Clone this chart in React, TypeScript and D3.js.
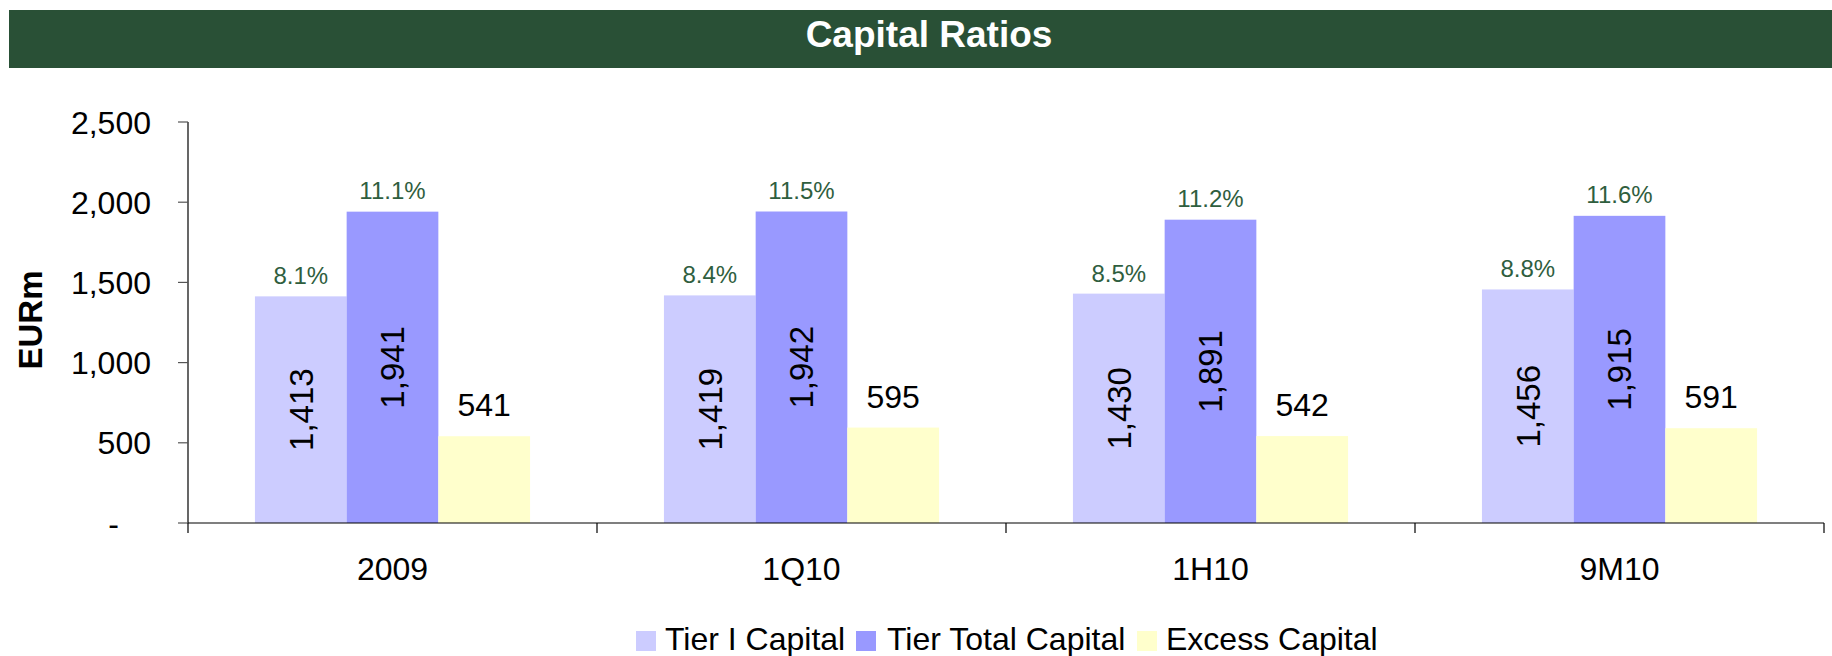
import React from "react";
import * as d3 from "d3";

const categories = ["2009", "1Q10", "1H10", "9M10"];
const seriesNames = ["Tier I Capital", "Tier Total Capital", "Excess Capital"];
const tier1 = [1413, 1419, 1430, 1456];
const tierTotal = [1941, 1942, 1891, 1915];
const excess = [541, 595, 542, 591];
const tier1Ratio = ["8.1%", "8.4%", "8.5%", "8.8%"];
const tierTotalRatio = ["11.1%", "11.5%", "11.2%", "11.6%"];
const yTicks = [0, 500, 1000, 1500, 2000, 2500];
const colors = ["#CCCCFF", "#9999FF", "#FFFFCC"];

const W = 1832;
const H = 656;
const FONT = "'Liberation Sans', Arial, sans-serif";

export default function App() {
  const x0 = d3.scaleBand<string>().domain(categories).range([188, 1824]).paddingInner(0).paddingOuter(0);
  const x1 = d3.scaleBand<string>().domain(seriesNames).range([0, x0.bandwidth()]).paddingInner(0).paddingOuter(0.73);
  const y = d3.scaleLinear().domain([0, 2500]).range([523, 122]);
  const fmt = d3.format(",");
  const seriesVals = [tier1, tierTotal, excess];

  const legendItems = [
    { name: seriesNames[0], x: 636, tx: 665 },
    { name: seriesNames[1], x: 856, tx: 887 },
    { name: seriesNames[2], x: 1137, tx: 1166 },
  ];

  return (
    <svg width={W} height={H} style={{ position: "absolute", left: 0, top: 0, display: "block" }} fontFamily={FONT}>
      <rect x={0} y={0} width={W} height={H} fill="#fff" />
      {/* title bar */}
      <rect x={9} y={10} width={1823} height={58} fill="#295036" />
      <text x={929} y={47} textAnchor="middle" fill="#fff" fontWeight="bold" fontSize={37}>Capital Ratios</text>

      {/* y axis label */}
      <text transform="translate(42,320) rotate(-90)" textAnchor="middle" fontWeight="bold" fontSize={33} fill="#000">EURm</text>

      {/* bars */}
      {categories.map((c, i) => (
        <g key={c} transform={`translate(${x0(c)},0)`}>
          {seriesNames.map((s, j) => {
            const v = seriesVals[j][i];
            return (
              <rect key={s} x={x1(s)} y={y(v)} width={x1.bandwidth()} height={y(0) - y(v)} fill={colors[j]} />
            );
          })}
        </g>
      ))}

      {/* y axis */}
      <line x1={188} x2={188} y1={122} y2={523} stroke="#000" strokeWidth={1.2} />
      {yTicks.map((t) => (
        <g key={t}>
          <line x1={178} x2={188} y1={y(t)} y2={y(t)} stroke="#555" strokeWidth={1.2} />
          <text x={t === 0 ? 119 : 151} y={y(t)} dy="0.36em" textAnchor="end" fontSize={32} fill="#000">
            {t === 0 ? "-" : fmt(t)}
          </text>
        </g>
      ))}

      {/* x axis */}
      <line x1={188} x2={1824} y1={523} y2={523} stroke="#000" strokeWidth={1.2} />
      {[...categories.map((c) => x0(c) as number), 1824].map((px, k) => (
        <line key={k} x1={px} x2={px} y1={523} y2={533} stroke="#000" strokeWidth={1.2} />
      ))}
      {categories.map((c) => (
        <text key={c} x={(x0(c) as number) + x0.bandwidth() / 2} y={580} textAnchor="middle" fontSize={32} fill="#000">
          {c}
        </text>
      ))}

      {/* labels */}
      {categories.map((c, i) => {
        const gx = x0(c) as number;
        const bw = x1.bandwidth();
        const cx = (s: string) => gx + (x1(s) as number) + bw / 2;
        return (
          <g key={c}>
            {[0, 1].map((j) => {
              const v = seriesVals[j][i];
              const mid = (y(v) + y(0)) / 2;
              return (
                <text key={j} transform={`translate(${cx(seriesNames[j])},${mid}) rotate(-90)`} textAnchor="middle" dy="0.36em" fontSize={33} fill="#000">
                  {fmt(v)}
                </text>
              );
            })}
            <text x={cx(seriesNames[2])} y={y(excess[i]) - 20} textAnchor="middle" fontSize={32} fill="#000">
              {fmt(excess[i])}
            </text>
            <text x={cx(seriesNames[0])} y={y(tier1[i]) - 12} textAnchor="middle" fontSize={24} fill="#2F5E3E">
              {tier1Ratio[i]}
            </text>
            <text x={cx(seriesNames[1])} y={y(tierTotal[i]) - 13} textAnchor="middle" fontSize={24} fill="#2F5E3E">
              {tierTotalRatio[i]}
            </text>
          </g>
        );
      })}

      {/* legend */}
      {legendItems.map((l, k) => (
        <g key={l.name}>
          <rect x={l.x} y={631} width={20} height={20} fill={colors[k]} />
          <text x={l.tx} y={650} fontSize={32} fill="#000">{l.name}</text>
        </g>
      ))}
    </svg>
  );
}
